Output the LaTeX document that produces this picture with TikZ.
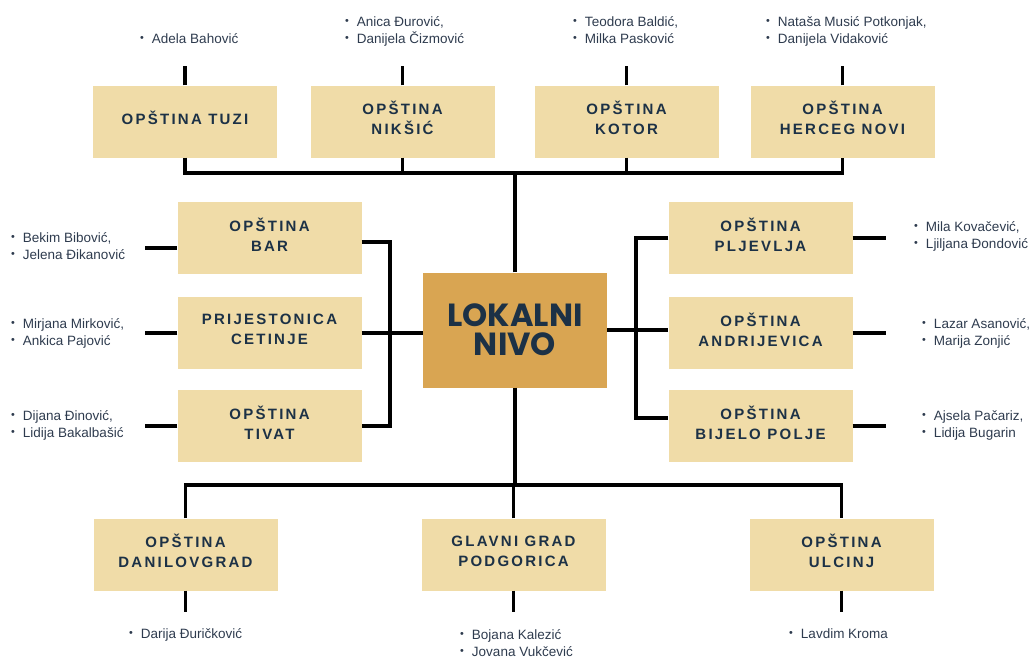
\documentclass[tikz,border=0pt]{standalone}
\usepackage{fontspec}
\setmainfont{Liberation Sans}
\newfontfamily\boxfont[LetterSpace=15]{Liberation Sans}
\newfontfamily\centerfont{Poppins}
\definecolor{boxfill}{HTML}{F0DCA8}
\definecolor{centerfill}{HTML}{D9A552}
\definecolor{navy}{HTML}{1C3146}
\definecolor{nametext}{HTML}{2E3B4E}
\newcommand\blt{\raisebox{0.2ex}{\scalebox{0.8}{•}}\hspace{8pt}}
\tikzset{
  unit/.style={fill=boxfill, minimum width=184pt, minimum height=72pt, inner sep=0pt,
    text depth=7pt, align=center, text=navy, font=\boxfont\bfseries\fontsize{15}{20}\selectfont},
  hub/.style={fill=centerfill, minimum width=184pt, minimum height=115pt, inner sep=0pt,
    align=center, text=navy, font=\centerfont\bfseries\fontsize{32}{29}\selectfont},
  names/.style={anchor=base west, inner sep=0pt, align=left, text=nametext,
    font=\fontsize{13.5}{17}\selectfont},
  link/.style={line width=3.4pt, black}
}
\begin{document}
\begin{tikzpicture}[x=1pt,y=-1pt]
\useasboundingbox (0,0) rectangle (1030,657);
% hub
\node[hub] (hub) at (515,330) {LOKALNI\\NIVO};
% top
\node[unit] (tuzi) at (185,121.5) {OPŠTINA TUZI};
\node[unit] (niksic) at (402.5,121.5) {OPŠTINA\\NIKŠIĆ};
\node[unit] (kotor) at (626.5,121.5) {OPŠTINA\\KOTOR};
\node[unit] (herceg) at (842.5,121.5) {OPŠTINA\\HERCEG NOVI};
% left
\node[unit] (bar) at (269.5,238) {OPŠTINA\\BAR};
\node[unit] (cetinje) at (269.5,333) {PRIJESTONICA\\CETINJE};
\node[unit] (tivat) at (269.5,426) {OPŠTINA\\TIVAT};
% right
\node[unit] (pljevlja) at (760.5,238) {OPŠTINA\\PLJEVLJA};
\node[unit] (andrijevica) at (760.5,333) {OPŠTINA\\ANDRIJEVICA};
\node[unit] (bijelo) at (760.5,426) {OPŠTINA\\BIJELO POLJE};
% bottom
\node[unit] (danilovgrad) at (185.5,554.5) {OPŠTINA\\DANILOVGRAD};
\node[unit] (podgorica) at (513.5,554.5) {GLAVNI GRAD\\PODGORICA};
\node[unit] (ulcinj) at (841.5,554.5) {OPŠTINA\\ULCINJ};

% buses
\coordinate (topbus) at (514,173);
\coordinate (leftbus) at (390,333);
\coordinate (rightbus) at (636,333);
\coordinate (botbus) at (514,485);

\draw[link] (tuzi.south) -- (tuzi.south |- topbus) -- (herceg.south |- topbus) -- (herceg.south);
\draw[link] (niksic.south) -- (niksic.south |- topbus);
\draw[link] (kotor.south) -- (kotor.south |- topbus);
\draw[link] (hub.north) -- (hub.north |- topbus);

\draw[link] ([yshift=-4pt]bar.east) -- ([yshift=-4pt]bar.east -| leftbus) -- (tivat.east -| leftbus) -- (tivat.east);
\draw[link] (cetinje.east) -- (hub.west |- cetinje.east);

\draw[link] (pljevlja.west) -- (pljevlja.west -| rightbus) -- ([yshift=8pt]bijelo.west -| rightbus) -- ([yshift=8pt]bijelo.west);
\draw[link] (hub.east) -- (andrijevica.west |- hub.east);

\draw[link] (hub.south) -- (hub.south |- botbus);
\draw[link] (danilovgrad.north) -- (danilovgrad.north |- botbus) -- (ulcinj.north |- botbus) -- (ulcinj.north);
\draw[link] (podgorica.north) -- (podgorica.north |- botbus);

% stubs
\coordinate (s1) at ([yshift=19pt]tuzi.north);
\coordinate (s2) at ([yshift=19pt]niksic.north);
\coordinate (s3) at ([yshift=19pt]kotor.north);
\coordinate (s4) at ([yshift=19pt]herceg.north);
\coordinate (s5) at ([xshift=-32pt,yshift=-10pt]bar.west);
\coordinate (s6) at ([xshift=-32pt]cetinje.west);
\coordinate (s7) at ([xshift=-32pt]tivat.west);
\coordinate (s8) at ([xshift=33pt]pljevlja.east);
\coordinate (s9) at ([xshift=33pt]andrijevica.east);
\coordinate (s10) at ([xshift=33pt]bijelo.east);
\coordinate (s11) at ([yshift=-21pt]danilovgrad.south);
\coordinate (s12) at ([yshift=-21pt]podgorica.south);
\coordinate (s13) at ([yshift=-21pt]ulcinj.south);
\foreach \b/\s in {tuzi/s1,niksic/s2,kotor/s3,herceg/s4}
  \draw[link] (\b.north) -- (\s);
\draw[link] (s5) -- (s5 -| bar.west);
\foreach \b/\s in {cetinje/s6,tivat/s7}
  \draw[link] (\b.west) -- (\s);
\foreach \b/\s in {pljevlja/s8,andrijevica/s9,bijelo/s10}
  \draw[link] (\b.east) -- (\s);
\foreach \b/\s in {danilovgrad/s11,podgorica/s12,ulcinj/s13}
  \draw[link] (\b.south) -- (\s);

% names (anchored at the baseline of the last line)
\node[names] (n1) at (140,43) {\blt Adela Bahović};
\node[names] (n2) at (345,43) {\blt Anica Đurović,\\\blt Danijela Čizmović};
\node[names] (n3) at (573,43) {\blt Teodora Baldić,\\\blt Milka Pasković};
\node[names] (n4) at (766,43) {\blt Nataša Musić Potkonjak,\\\blt Danijela Vidaković};
\node[names] (n5) at (11,259) {\blt Bekim Bibović,\\\blt Jelena Đikanović};
\node[names] (n6) at (11,345) {\blt Mirjana Mirković,\\\blt Ankica Pajović};
\node[names] (n7) at (11,437) {\blt Dijana Đinović,\\\blt Lidija Bakalbašić};
\node[names] (n8) at (914,248) {\blt Mila Kovačević,\\\blt Ljiljana Đondović};
\node[names] (n9) at (922,345) {\blt Lazar Asanović,\\\blt Marija Zonjić};
\node[names] (n10) at (922,437) {\blt Ajsela Pačariz,\\\blt Lidija Bugarin};
\node[names] (n11) at (129,638) {\blt Darija Đuričković};
\node[names] (n12) at (460,656) {\blt Bojana Kalezić\\\blt Jovana Vukčević};
\node[names] (n13) at (789,638) {\blt Lavdim Kroma};
\end{tikzpicture}
\end{document}
